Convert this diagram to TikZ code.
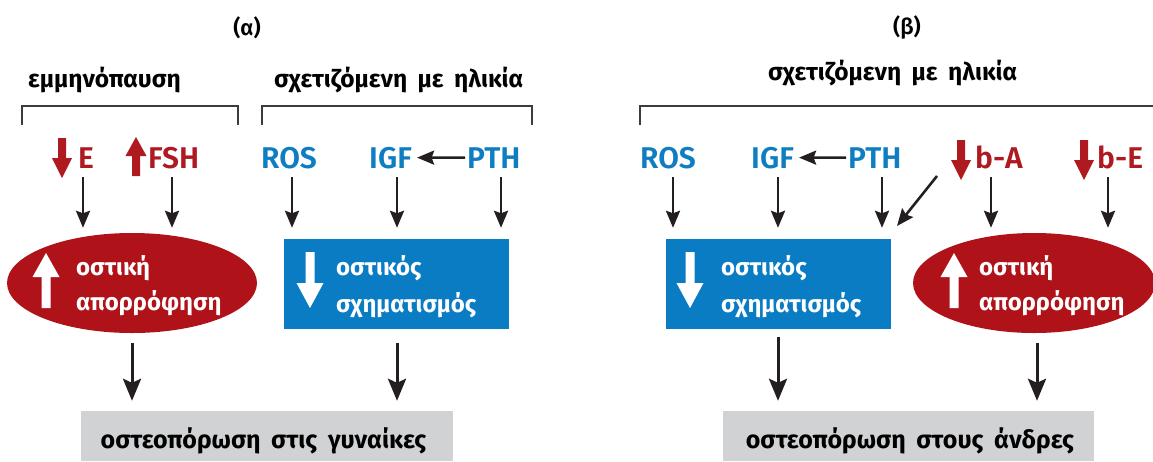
\documentclass[tikz,border=0pt]{standalone}
\usepackage{fontspec}
\usetikzlibrary{shapes.geometric,arrows.meta}

\newfontfamily\greekbold{Fira Sans Bold}[WordSpace=1.8]
\newfontfamily\labelfont{Fira Sans SemiBold}

\definecolor{boneRed}{HTML}{AF1319}
\definecolor{boneBlue}{HTML}{0A7CC4}
\definecolor{labelRed}{HTML}{AE1A1F}
\definecolor{labelBlue}{HTML}{0E7DC2}
\definecolor{panelGray}{HTML}{D1D2D4}
\definecolor{ink}{HTML}{231F20}
\definecolor{bracketGray}{HTML}{3C3C3C}

\tikzset{
  arr/.style={draw=ink, line width=2.6pt, -{Stealth[width=14pt,length=17pt,inset=2.5pt]}},
  bigarr/.style={draw=ink, line width=3pt, -{Stealth[width=18pt,length=22pt,inset=4pt]}},
  bracket/.style={draw=bracketGray, line width=2pt},
  hdr/.style={font=\greekbold\fontsize{24.5}{28}\selectfont, text=black, inner sep=0pt, anchor=base west},
  paneltitle/.style={font=\labelfont\fontsize{22}{24}\selectfont, text=black, inner sep=0pt},
  inlabel/.style={font=\greekbold\fontsize{24}{28}\selectfont, text=white, inner sep=0pt, anchor=base west},
  outlabel/.style={font=\greekbold\fontsize{25}{28}\selectfont, text=black, inner sep=0pt, anchor=base},
  redlbl/.style={font=\labelfont\fontsize{30}{32}\selectfont, text=labelRed, inner sep=0pt, anchor=base west},
  bluelbl/.style={font=\labelfont\fontsize{30}{32}\selectfont, text=labelBlue, inner sep=0pt, anchor=base west},
  resorb/.style={ellipse, fill=boneRed, inner sep=0pt},
  formation/.style={rectangle, fill=boneBlue, inner sep=0pt, minimum width=225pt, minimum height=90pt},
  outcome/.style={rectangle, fill=panelGray, inner sep=0pt, minimum width=372pt, minimum height=50pt},
  % block arrows, origin at the top centre
  pics/smalldown/.style={code={\fill[#1] (-4,0) -- (4,0) -- (4,20) -- (10,20) -- (0,40) -- (-10,20) -- (-4,20) -- cycle;}},
  pics/smallup/.style={code={\fill[#1] (0,0) -- (10.5,19) -- (4,19) -- (4,39) -- (-4,39) -- (-4,19) -- (-10.5,19) -- cycle;}},
  pics/bigdown/.style={code={\fill[#1] (-4.5,0) -- (4.5,0) -- (4.5,31) -- (13.5,31) -- (0,56) -- (-13.5,31) -- (-4.5,31) -- cycle;}},
  pics/bigup/.style={code={\fill[#1] (0,0) -- (13.5,24) -- (4.5,24) -- (4.5,55) -- (-4.5,55) -- (-4.5,24) -- (-13.5,24) -- cycle;}},
}

\begin{document}
\begin{tikzpicture}[x=1pt,y=-1pt]
\useasboundingbox (0,0) rectangle (1153,461);

% ---------- panel titles ----------
\node[paneltitle] (titleA) at (247,28) {(α)};
\node[paneltitle] (titleB) at (907,28) {(β)};

% ---------- group headings and brackets ----------
\node[hdr] (hMeno) at (28,87) {εμμηνόπαυση};
\node[hdr] (hAgeA) at (274,87) {σχετιζόμενη με ηλικία};
\node[hdr] (hAgeB) at (768,80) {σχετιζόμενη με ηλικία};

\draw[bracket] (22,125) -- (22,106) -- (238,106) -- (238,125);
\draw[bracket] (262,125) -- (262,106) -- (532,106) -- (532,125);
\draw[bracket] (640,125) -- (640,106) -- (1153,106);

% ---------- factors, panel (a) ----------
\pic at (62,138) {smalldown=labelRed};
\node[redlbl] (eA) at (78,168) {E};
\pic at (136,137) {smallup=labelRed};
\node[redlbl] (fshA) at (148,168) {FSH};
\node[bluelbl] (rosA) at (261,168) {ROS};
\node[bluelbl] (igfA) at (369,168) {IGF};
\node[bluelbl] (pthA) at (467,168) {PTH};

% ---------- factors, panel (b) ----------
\node[bluelbl] (rosB) at (640,168) {ROS};
\node[bluelbl] (igfB) at (751,168) {IGF};
\node[bluelbl] (pthB) at (848,168) {PTH};
\pic at (961,140) {smalldown=labelRed};
\node[redlbl] (baB) at (975,168) {b-A};
\pic at (1084,140) {smalldown=labelRed};
\node[redlbl] (beB) at (1097,168) {b-E};

% ---------- bone processes ----------
\node[resorb, minimum width=250pt, minimum height=100pt] (resA) at (132,283) {};
\pic at (46,253) {bigup=white};
\node[inlabel] (resA1) at (76,275) {οστική};
\node[inlabel] (resA2) at (76,310) {απορρόφηση};

\node[formation] (formA) at (396.5,284) {};
\pic at (310,252) {bigdown=white};
\node[inlabel] (formA1) at (336,275) {οστικός};
\node[inlabel] (formA2) at (336,312) {σχηματισμός};

\node[formation] (formB) at (778.5,284) {};
\pic at (690,252) {bigdown=white};
\node[inlabel] (formB1) at (721,275) {οστικός};
\node[inlabel] (formB2) at (721,312) {σχηματισμός};

\node[resorb, minimum width=242pt, minimum height=100pt] (resB) at (1034,283) {};
\pic at (954,253) {bigup=white};
\node[inlabel] (resB1) at (979,275) {οστική};
\node[inlabel] (resB2) at (979,310) {απορρόφηση};

% ---------- outcomes ----------
\node[outcome] (osteoA) at (267,436) {};
\node[outlabel] (osteoAtxt) at (263.5,448) {οστεοπόρωση στις γυναίκες};
\node[outcome, minimum width=371pt] (osteoB) at (908.5,436) {};
\node[outlabel] (osteoBtxt) at (910,448) {οστεοπόρωση στους άνδρες};

% ---------- arrow start points below the factors ----------
\coordinate (oE)    at (83,177);
\coordinate (oFSH)  at (172,177);
\coordinate (oRosA) at (292,177);
\coordinate (oIgfA) at (397,177);
\coordinate (oPthA) at (501,177);
\coordinate (oRosB) at (673,177);
\coordinate (oIgfB) at (778,177);
\coordinate (oPthB) at (882,177);
\coordinate (oBaB)  at (991,177);
\coordinate (oBeB)  at (1108,177);
\coordinate (oDiag) at (937,176);
\coordinate (tDiag) at (897,226);

% ---------- connectors, panel (a) ----------
\draw[arr, shorten <=2pt, shorten >=5pt] (pthA.west) -- (igfA.east);
\draw[arr, shorten >=5pt] (oE) -- (oE |- resA.north);
\draw[arr, shorten >=5pt] (oFSH) -- (oFSH |- resA.north);
\draw[arr, shorten >=11pt] (oRosA) -- (oRosA |- formA.north);
\draw[arr, shorten >=11pt] (oIgfA) -- (oIgfA |- formA.north);
\draw[arr, shorten >=11pt] (oPthA) -- (oPthA |- formA.north);
\draw[bigarr, shorten <=10pt, shorten >=10pt] (resA.south) -- (resA.south |- osteoA.north);
\draw[bigarr, shorten <=14pt, shorten >=10pt] (formA.south -| oIgfA) -- (oIgfA |- osteoA.north);

% ---------- connectors, panel (b) ----------
\draw[arr, shorten <=2pt, shorten >=5pt] (pthB.west) -- (igfB.east);
\draw[arr, shorten >=11pt] (oRosB) -- (oRosB |- formB.north);
\draw[arr, shorten >=11pt] (oIgfB) -- (oIgfB |- formB.north);
\draw[arr, shorten >=11pt] (oPthB) -- (oPthB |- formB.north);
\draw[arr] (oDiag) -- (tDiag);
\draw[arr, shorten >=5pt] (oBaB) -- (oBaB |- resB.north);
\draw[arr, shorten >=5pt] (oBeB) -- (oBeB |- resB.north);
\draw[bigarr, shorten <=8pt, shorten >=10pt] (formB.south -| oIgfB) -- (oIgfB |- osteoB.north);
\coordinate (oResB) at (1037,333);
\draw[bigarr, shorten <=10pt, shorten >=10pt] (oResB) -- (oResB |- osteoB.north);
\end{tikzpicture}
\end{document}
